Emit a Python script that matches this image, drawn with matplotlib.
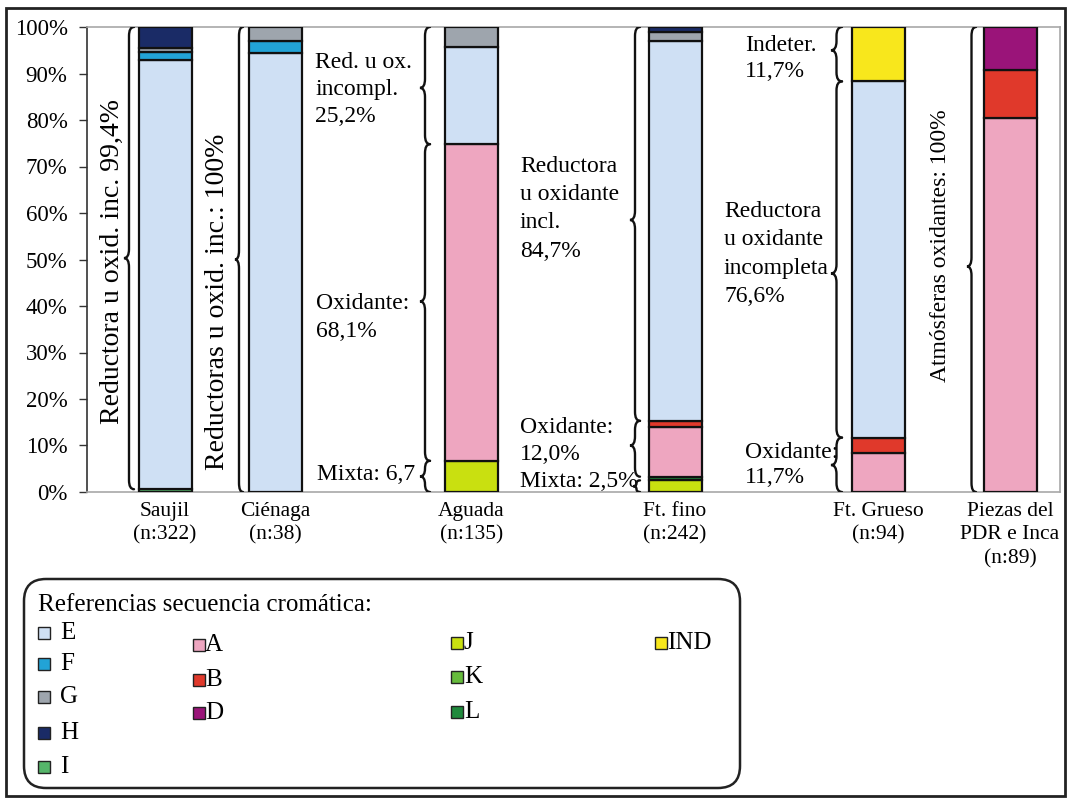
import matplotlib
matplotlib.use("Agg")
import matplotlib.pyplot as plt
import numpy as np
from matplotlib.path import Path
from matplotlib.patches import PathPatch, FancyBboxPatch, Rectangle

plt.rcParams['font.family'] = ['Liberation Serif', 'DejaVu Serif']

# ---- data -------------------------------------------------------------
groups = ["Saujil\n(n:322)", "Ciénaga\n(n:38)", "Aguada\n(n:135)",
          "Ft. fino\n(n:242)", "Ft. Grueso\n(n:94)", "Piezas del\nPDR e Inca\n(n:89)"]

# percentage of each chromatic sequence, stacked bottom -> top in this order
seq_I = [0.6, 0, 0, 0, 0, 0]
seq_J = [0, 0, 6.7, 2.5, 0, 0]
seq_K = [0, 0, 0, 0, 0, 0]
seq_L = [0, 0, 0, 0.8, 0, 0]
seq_A = [0, 0, 68.1, 10.7, 8.4, 80.4]
seq_B = [0, 0, 0, 1.3, 3.3, 10.4]
seq_D = [0, 0, 0, 0, 0, 9.2]
seq_E = [92.4, 94.4, 21.0, 81.7, 76.6, 0]
seq_F = [1.6, 2.6, 0, 0, 0, 0]
seq_G = [0.8, 3.0, 4.2, 1.9, 0, 0]
seq_H = [4.6, 0, 0, 1.1, 0, 0]
seq_IND = [0, 0, 0, 0, 11.7, 0]

stack_names = ["I", "J", "K", "L", "A", "B", "D", "E", "F", "G", "H", "IND"]
stack_values = [seq_I, seq_J, seq_K, seq_L, seq_A, seq_B, seq_D,
                seq_E, seq_F, seq_G, seq_H, seq_IND]

colors = {
    "E": "#cfe0f4", "F": "#22a3d6", "G": "#9ea5ad", "H": "#1a2b66", "I": "#55b56a",
    "A": "#eea6c0", "B": "#e0392b", "D": "#9a1479",
    "J": "#c9e010", "K": "#66bb3c", "L": "#1f8a3c", "IND": "#f8e71c",
}

# ---- layout (x in axis pixels, bars 53 px wide) ----------------------
bar_x = np.array([78, 188, 384.5, 588, 791, 923])
bar_w = 53
W, H = 1071, 799

fig = plt.figure(figsize=(W / 100, H / 100), dpi=100)

# full-figure overlay for the frame and the legend box
ov = fig.add_axes([0, 0, 1, 1])
ov.set_xlim(0, W)
ov.set_ylim(H, 0)
ov.axis("off")
ov.add_patch(Rectangle((6, 8), 1059, 788, fill=False, lw=2.0, ec="#222222"))

ax_l, ax_r, ax_t, ax_b = 87, 1060, 27, 492
ax = fig.add_axes([ax_l / W, 1 - ax_b / H, (ax_r - ax_l) / W, (ax_b - ax_t) / H])
ax.set_xlim(0, ax_r - ax_l)
ax.set_ylim(0, 100)
ax.patch.set_alpha(0)

bottom = np.zeros(len(groups))
for name, vals in zip(stack_names, stack_values):
    vals = np.array(vals, dtype=float)
    m = vals > 0
    if m.any():
        ax.bar(bar_x[m], vals[m], bar_w, bottom=bottom[m], color=colors[name],
               edgecolor="#111111", linewidth=1.6, zorder=3)
    bottom += vals

ax.set_yticks(np.arange(0, 101, 10))
ax.set_yticklabels([f"{v}%" for v in range(0, 101, 10)], fontsize=16.5)
ax.tick_params(axis="y", direction="out", length=6, width=1, pad=8, color="#333333")
ax.set_xticks(bar_x)
ax.set_xticklabels(groups, fontsize=15.5, linespacing=1.32)
ax.tick_params(axis="x", length=0, pad=7)
for s in ["top", "right", "bottom"]:
    ax.spines[s].set_color("#a8a8a8")
    ax.spines[s].set_linewidth(1.2)
ax.spines["left"].set_color("#333333")
ax.spines["left"].set_linewidth(1.2)

PX_PER_PCT = (ax_b - ax_t) / 100.0


def brace(x_tip, x_arm, lo, hi, y_tip=None, lw=1.7):
    """Curly brace '{' spanning lo..hi (percent), tip pointing left."""
    if y_tip is None:
        y_tip = (lo + hi) / 2
    r = min(9 / PX_PER_PCT, (hi - lo) / 4)
    xm = (x_tip + x_arm) / 2
    verts = [(x_arm, hi), (xm, hi), (xm, hi - r),
             (xm, y_tip + r),
             (xm, y_tip), (x_tip, y_tip),
             (xm, y_tip), (xm, y_tip - r),
             (xm, lo + r),
             (xm, lo), (x_arm, lo)]
    codes = [Path.MOVETO, Path.CURVE3, Path.CURVE3,
             Path.LINETO,
             Path.CURVE3, Path.CURVE3,
             Path.CURVE3, Path.CURVE3,
             Path.LINETO,
             Path.CURVE3, Path.CURVE3]
    ax.add_patch(PathPatch(Path(verts, codes), fill=False, lw=lw,
                           ec="#111111", zorder=4, capstyle="round"))


cum = np.cumsum(np.array(stack_values), axis=0)  # cumulative tops per sequence
idx = {n: i for i, n in enumerate(stack_names)}


def top_of(name, g):
    return cum[idx[name], g]


fs = 17
ls = 1.45
# Saujil
brace(37, 47, top_of("I", 0), 100)
ax.text(25, 49.5, "Reductora u oxid. inc. 99,4%", rotation=90, ha="center",
        va="center", fontsize=20)
# Ciénaga
brace(148, 156, 0, 100)
ax.text(131, 41, "Reductoras u oxid. inc.: 100%", rotation=90, ha="center",
        va="center", fontsize=20)
# Aguada
ag_mix = top_of("J", 2)
ag_ox = top_of("D", 2)
brace(333, 343, ag_ox, 100, y_tip=86.9)
brace(333, 343, ag_mix, ag_ox, y_tip=41.0)
brace(333, 343, 0, ag_mix)
ax.text(228, 86.5, "Red. u ox.\nincompl.\n25,2%", ha="left", va="center",
        fontsize=fs, linespacing=1.38)
ax.text(229, 37.6, "Oxidante:\n68,1%", ha="left", va="center",
        fontsize=fs, linespacing=ls)
ax.text(328, 3.7, "Mixta: 6,7", ha="right", va="center", fontsize=fs)
# Ft. fino
ff_mix = top_of("L", 3)
ff_ox = top_of("D", 3)
brace(543, 553, ff_ox, 100, y_tip=58.5)
brace(543, 553, ff_mix, ff_ox, y_tip=10.0)
brace(546, 553, 0, 2.5)
ax.text(433, 60.9, "Reductora\nu oxidante\nincl.\n84,7%", ha="left",
        va="center", fontsize=fs, linespacing=ls)
ax.text(433, 11.0, "Oxidante:\n12,0%", ha="left", va="center",
        fontsize=fs, linespacing=1.35)
ax.text(433, 2.2, "Mixta: 2,5%", ha="left", va="center", fontsize=fs)
# Ft. Grueso
fg_ox = top_of("D", 4)
fg_red = top_of("H", 4)
brace(744, 755, fg_red, 100, y_tip=95.0)
brace(744, 755, fg_ox, fg_red, y_tip=47.0)
brace(744, 755, 0, fg_ox, y_tip=5.8)
ax.text(658, 93.2, "Indeter.\n11,7%", ha="left", va="center",
        fontsize=fs, linespacing=1.3)
ax.text(637, 51.2, "Reductora\nu oxidante\nincompleta\n76,6%", ha="left",
        va="center", fontsize=fs, linespacing=ls)
ax.text(658, 5.8, "Oxidante:\n11,7%", ha="left", va="center",
        fontsize=fs, linespacing=1.3)
# Piezas del PDR e Inca
brace(880, 889, 0, 100, y_tip=48.5)
ax.text(853, 53, "Atmósferas oxidantes: 100%", rotation=90, ha="center",
        va="center", fontsize=17)

# ---- legend box -------------------------------------------------------
ov.add_patch(FancyBboxPatch((24, 579), 716, 209,
                            boxstyle="round,pad=0,rounding_size=22",
                            fill=False, lw=1.8, ec="#222222"))
ov.text(38, 605, "Referencias secuencia cromática:", ha="left", va="center",
        fontsize=18)

legend_cols = [
    (38, 60, [("E", 633), ("F", 664), ("G", 697), ("H", 733), ("I", 767)]),
    (193, 205, [("A", 645), ("B", 680), ("D", 713)]),
    (451, 464, [("J", 643), ("K", 677), ("L", 712)]),
    (655, 667, [("IND", 643)]),
]
for x0, xt, items in legend_cols:
    for name, y0 in items:
        ov.add_patch(Rectangle((x0, y0 - 6), 12, 12, fc=colors[name],
                               ec="#222222", lw=1.0))
        ov.text(xt, y0, name, ha="left", va="center", fontsize=18)

fig.savefig("out.png", dpi=100)
